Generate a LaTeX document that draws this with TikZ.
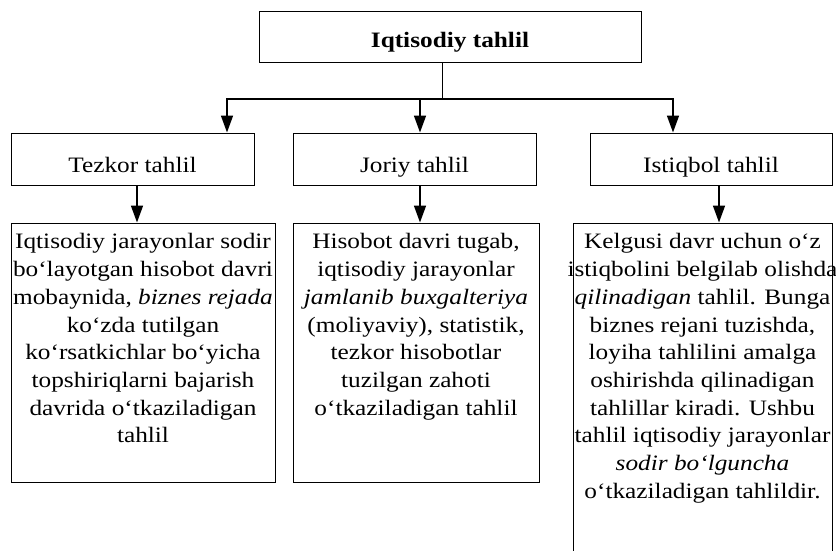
\documentclass[tikz,border=0pt]{standalone}
\usepackage{fontspec}
\setmainfont{Liberation Serif}[FakeStretch=1.15]
\usetikzlibrary{arrows.meta,positioning}
\tikzset{every node/.style={font=\fontsize{22}{27.7}\selectfont}}
\tikzset{box/.style={draw, line width=1pt, inner sep=0pt}}
\tikzset{kindbox/.style={box, minimum width=243pt, minimum height=52pt, text height=26pt, text depth=0pt}}
\tikzset{descbox/.style={box, minimum height=259pt}}
\tikzset{desctext/.style={align=center, inner sep=0pt}}
\tikzset{branch/.style={line width=1.6pt, -{Triangle[length=17pt,width=12pt]}}}

\begin{document}
\begin{tikzpicture}[x=1pt, y=-1pt]
    \useasboundingbox (0,0) rectangle (836,551);
    % top
    \node[box, minimum width=382pt, minimum height=51pt, text height=21pt, text depth=0pt,
        font=\fontsize{22}{27.7}\selectfont\bfseries] (root) at (450,37.5) {Iqtisodiy tahlil};
    % kinds
    \node[kindbox] (tezkor) at (132.5,159) {Tezkor tahlil};
    \node[kindbox] (joriy) at (414.5,159) {Joriy tahlil};
    \node[kindbox, minimum width=242pt] (istiqbol) at (711,159) {Istiqbol tahlil};
    % descriptions
    \node[descbox, minimum width=264pt] (desc1) at (143,352.5) {};
    \node[descbox, minimum width=246pt] (desc2) at (416,352.5) {};
    \node[descbox, minimum width=259pt, minimum height=333pt] (desc3) at (702.5,389.5) {};
    \node[desctext, below=11pt of desc1.north] (desc1txt) {Iqtisodiy jarayonlar sodir\\
        bo‘layotgan hisobot davri\\ mobaynida, \textit{biznes rejada}\\ ko‘zda tutilgan\\
        ko‘rsatkichlar bo‘yicha\\ topshiriqlarni bajarish\\ davrida o‘tkaziladigan\\ tahlil};
    \node[desctext, below=11pt of desc2.north] (desc2txt) {Hisobot davri tugab,\\
        iqtisodiy jarayonlar\\ \textit{jamlanib buxgalteriya}\\ (moliyaviy), statistik,\\
        tezkor hisobotlar\\ tuzilgan zahoti\\ o‘tkaziladigan tahlil};
    \node[desctext, below=11pt of desc3.north] (desc3txt) {Kelgusi davr uchun o‘z\\
        istiqbolini belgilab olishda\\ \textit{qilinadigan} tahlil. Bunga\\ biznes rejani tuzishda,\\
        loyiha tahlilini amalga\\ oshirishda qilinadigan\\ tahlillar kiradi. Ushbu\\
        tahlil iqtisodiy jarayonlar\\ \textit{sodir bo‘lguncha}\\ o‘tkaziladigan tahlildir.};
    % connectors
    \coordinate (hub) at (442,99);
    \coordinate (b1) at (227,99);
    \coordinate (b2) at (420,99);
    \coordinate (b3) at (673,99);
    \coordinate (d1) at (137,0);
    \coordinate (d2) at (420,0);
    \coordinate (d3) at (719,0);
    \draw[line width=1pt] (root.south -| hub) -- (hub);
    \draw[line width=1.6pt, line cap=rect] (b1) -- (b3);
    \draw[branch] (b1) -- (b1 |- tezkor.north);
    \draw[branch] (b2) -- (b2 |- joriy.north);
    \draw[branch] (b3) -- (b3 |- istiqbol.north);
    \draw[branch] (d1 |- tezkor.south) -- (d1 |- desc1.north);
    \draw[branch] (d2 |- joriy.south) -- (d2 |- desc2.north);
    \draw[branch] (d3 |- istiqbol.south) -- (d3 |- desc3.north);
\end{tikzpicture}
\end{document}
